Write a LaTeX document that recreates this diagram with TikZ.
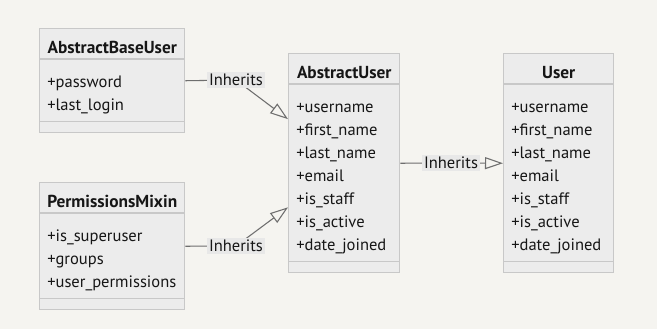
\documentclass[tikz,border=0pt]{standalone}
\usepackage{fontspec}
\setmainfont{PT Sans}
\usetikzlibrary{arrows.meta,positioning,calc}
\definecolor{bgc}{RGB}{245,244,240}
\definecolor{boxc}{RGB}{236,236,236}
\definecolor{linec}{RGB}{200,200,200}
\definecolor{edgec}{RGB}{110,110,110}
\definecolor{labc}{RGB}{232,232,232}
\definecolor{txtc}{RGB}{22,22,22}

\begin{document}
\begin{tikzpicture}[x=0.75pt,y=-0.75pt,>={Triangle[open,length=13.5pt,width=9pt]}]
\tikzstyle{cls}=[draw=linec,fill=boxc,line width=1.1pt,anchor=north west,inner sep=0pt]
\tikzstyle{sep}=[draw=linec,line width=1.1pt]
\tikzstyle{ttl}=[anchor=base,inner sep=0pt,font=\fontsize{13}{15}\selectfont\bfseries,text=txtc]
\tikzstyle{att}=[anchor=base west,inner sep=0pt,font=\fontsize{12.4}{14}\selectfont,text=txtc]
\tikzstyle{lab}=[fill=labc,inner sep=1.3pt,font=\fontsize{12.4}{14}\selectfont,text=txtc]
\tikzstyle{edge}=[draw=edgec,line width=0.8pt,->]
\fill[bgc] (0,0) rectangle (657,329);
\useasboundingbox (0,0) rectangle (657,329);
\foreach \n/\x/\y/\w/\h/\t/\as in {
  abu/39/28/108.75/78/AbstractBaseUser/{password,last\_login},
  pm/39/182/108.75/95.25/PermissionsMixin/{is\_superuser,groups,user\_permissions},
  au/288/53/83.25/164.25/AbstractUser/{username,first\_name,last\_name,email,is\_staff,is\_active,date\_joined},
  usr/503/53/82.5/164.25/User/{username,first\_name,last\_name,email,is\_staff,is\_active,date\_joined}}{
  \node[cls,minimum width=\w pt,minimum height=\h pt] (\n) at (\x,\y) {};
  \draw[sep] ($(\n.north west)+(0,31)$) -- ($(\n.north east)+(0,31)$);
  \draw[sep] ($(\n.south west)+(0,-12)$) -- ($(\n.south east)+(0,-12)$);
  \node[ttl] (\n-t) at ($(\n.north)+(0,25.5)$) {\t};
  \foreach \a [count=\i] in \as
    \node[att] (\n-\i) at ($(\n.north west)+(8,36.5+23*\i)$) {+\a};
}
\coordinate (c1) at (236,80);
\coordinate (c2) at (236,246);
\coordinate (c3) at (451,163);
\draw[edge] (abu.east) -- (c1) -- ($(au.north west)!0.3!(au.south west)$);
\draw[edge] (pm.east) -- (c2) -- ($(au.north west)!0.7!(au.south west)$);
\draw[edge] (au.east) -- (c3) -- (usr.west);
\node[lab] (l1) at (c1) {Inherits};
\node[lab] (l2) at (c2) {Inherits};
\node[lab] (l3) at (c3) {Inherits};
\end{tikzpicture}
\end{document}
